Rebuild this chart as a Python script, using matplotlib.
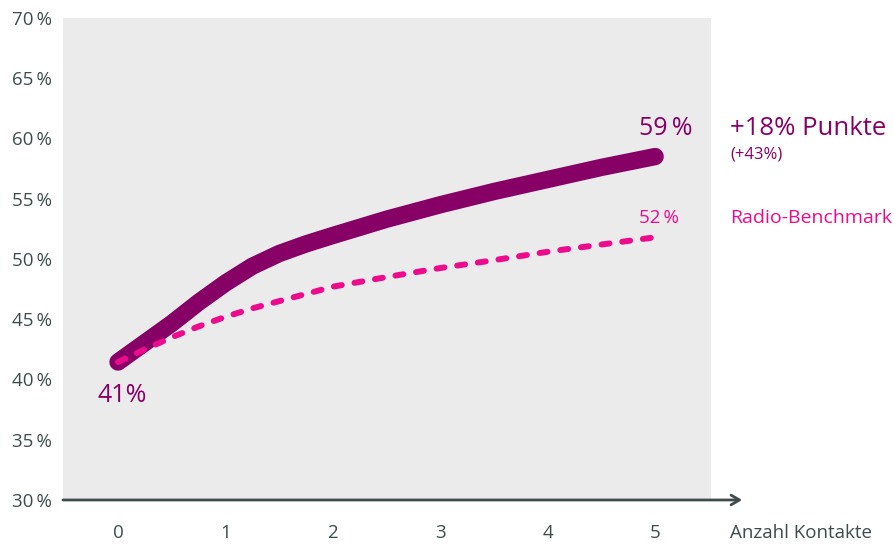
import numpy as np
import matplotlib.pyplot as plt

# ========== Daten ==========
kontakte = [0, 0.25, 0.5, 0.75, 1, 1.25, 1.5, 1.75, 2, 2.5, 3, 3.5, 4, 4.5, 5]
kampagne = [41.45, 43.05, 44.65, 46.4, 48.0, 49.4, 50.45, 51.25, 51.95,
            53.3, 54.5, 55.6, 56.6, 57.6, 58.5]
benchmark = [41.45, 42.5, 43.5, 44.4, 45.2, 45.9, 46.5, 47.1, 47.7,
             48.5, 49.25, 49.9, 50.6, 51.2, 51.8]
x_ticks = [0, 1, 2, 3, 4, 5]
y_ticks = [30, 35, 40, 45, 50, 55, 60, 65, 70]

PURPLE = '#870066'
MAGENTA = '#EE0A8C'
GREY = '#3F4C4C'
BG = '#EBEBEB'
TS = '\u2009'  # schmales Leerzeichen vor %

plt.rcParams['font.family'] = ['Open Sans', 'DejaVu Sans']

fig = plt.figure(figsize=(8.95, 5.45), dpi=100)
ax = fig.add_axes([0.0704, 0.0826, 0.724, 0.8844])
ax.set_facecolor(BG)
ax.set_xlim(-0.512, 5.52)
ax.set_ylim(30, 70)

ax.plot(kontakte, kampagne, color=PURPLE, lw=12.5, solid_capstyle='round',
        solid_joinstyle='round', zorder=3)
ax.plot(kontakte, benchmark, color=MAGENTA, lw=4.3, dashes=(1.33, 2.16),
        dash_capstyle='round', zorder=4)

for s in ax.spines.values():
    s.set_visible(False)

ax.set_xticks(x_ticks)
ax.set_yticks(y_ticks)
ax.set_yticklabels([f'{v}{TS}%' for v in y_ticks])
ax.tick_params(length=0, colors=GREY, labelsize=13.5)
ax.tick_params(axis='x', pad=17)
ax.tick_params(axis='y', pad=8)

# x-Achse mit Pfeil
ax.annotate('', xy=(5.81, 30), xytext=(-0.512, 30),
            arrowprops=dict(arrowstyle='->,head_length=0.6,head_width=0.35',
                            lw=2, color=GREY, shrinkA=0, shrinkB=0),
            annotation_clip=False, zorder=5)

# Beschriftungen
ax.text(0.04, 38.7, '41%', color=PURPLE, fontsize=18, ha='center', va='center')
ax.text(5.1, 60.8, f'59{TS}%', color=PURPLE, fontsize=18, ha='center', va='center')
ax.text(5.04, 53.4, f'52{TS}%', color=MAGENTA, fontsize=13.5, ha='center', va='center')
ax.text(5.7, 60.8, '+18% Punkte', color=PURPLE, fontsize=18.5, ha='left',
        va='center', clip_on=False)
ax.text(5.7, 58.7, '(+43%)', color=PURPLE, fontsize=12, ha='left',
        va='center', clip_on=False)
ax.text(5.7, 53.4, 'Radio-Benchmark', color=MAGENTA, fontsize=14, ha='left',
        va='center', clip_on=False)
ax.text(5.7, 27.3, 'Anzahl Kontakte', color=GREY, fontsize=13.5, ha='left',
        va='center', clip_on=False)

fig.savefig('out.png', dpi=100)
